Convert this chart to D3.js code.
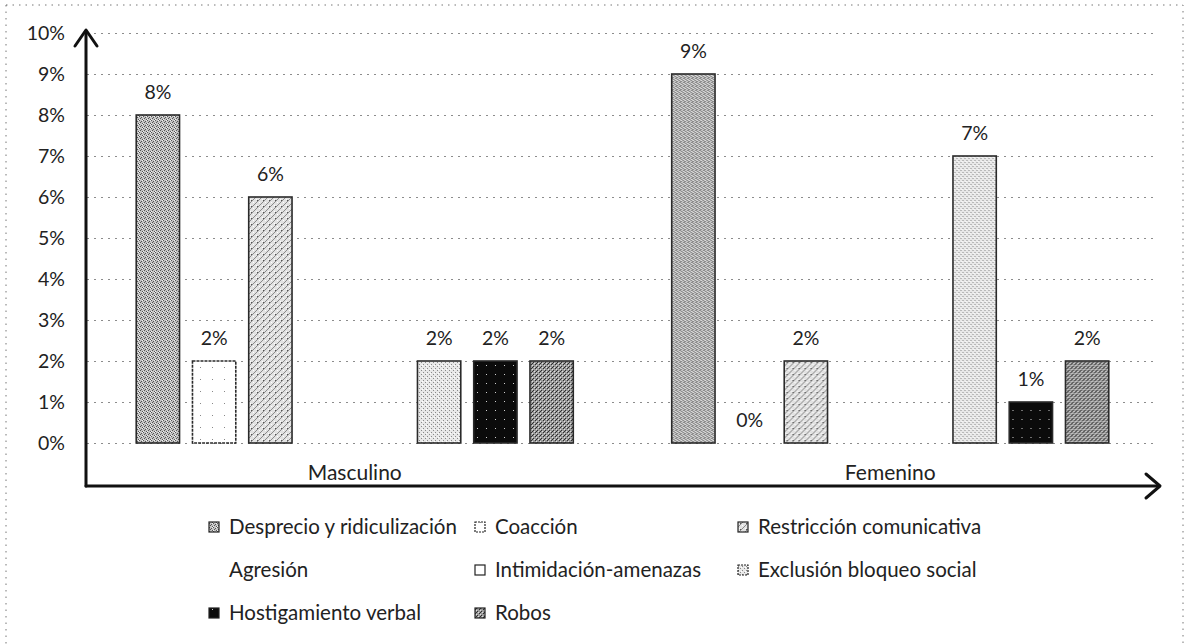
<!DOCTYPE html>
<html>
<head>
<meta charset="utf-8">
<script src="https://cdn.jsdelivr.net/npm/d3@7"></script>
<style>
  html, body { margin: 0; padding: 0; background: #fff; }
  svg { display: block; font-family: Lato, "Open Sans", sans-serif; }
</style>
</head>
<body>
<svg id="chart" width="1189" height="644"></svg>
<script>
// ---- data ----
const categories = ["Masculino", "Femenino"];
const seriesNames = [
  "Desprecio y ridiculización", "Coacción", "Restricción comunicativa",
  "Agresión", "Intimidación-amenazas", "Exclusión bloqueo social",
  "Hostigamiento verbal", "Robos"
];
const masculinoValues = [0.08, 0.02, 0.06, null, null, 0.02, 0.02, 0.02];
const femeninoValues  = [0.09, 0.00, 0.02, null, null, 0.07, 0.01, 0.02];
const yTicks = [0, 0.01, 0.02, 0.03, 0.04, 0.05, 0.06, 0.07, 0.08, 0.09, 0.10];
const legendRows = [
  ["Desprecio y ridiculización", "Coacción", "Restricción comunicativa"],
  ["Agresión", "Intimidación-amenazas", "Exclusión bloqueo social"],
  ["Hostigamiento verbal", "Robos"]
];

const valuesByCat = { "Masculino": masculinoValues, "Femenino": femeninoValues };

// ---- setup ----
const svg = d3.select("#chart");
const plot = { left: 87, right: 1158, top: 33, bottom: 443 };
const axisY = 486;

// patterns
const defs = svg.append("defs");
function pat(id, size, bg, draw) {
  const p = defs.append("pattern").attr("id", id).attr("patternUnits", "userSpaceOnUse")
    .attr("width", size).attr("height", size);
  p.append("rect").attr("width", size).attr("height", size).attr("fill", bg);
  draw(p);
  return p;
}
function dots(p, pts, color) {
  pts.forEach(([x, y]) => p.append("rect").attr("x", x).attr("y", y).attr("width", 1).attr("height", 1).attr("fill", color));
}
pat("p0", 4, "#c4c4c4", p => { dots(p, [[0,0],[2,1],[1,2],[3,3]], "#555"); dots(p, [[3,0],[0,3]], "#f0f0f0"); });
pat("p1", 12, "#ffffff", p => { dots(p, [[5,7]], "#888"); });
pat("p2", 6, "#e2e2e2", p => {
  p.append("path").attr("d", "M0,6 L6,0 M-1,1 L1,-1 M5,7 L7,5").attr("stroke", "#8a8a8a").attr("stroke-width", 1);
  dots(p, [[1,1],[4,4]], "#ffffff"); dots(p, [[2,2]], "#555");
});
pat("p3", 6, "#ffffff", p => {});
pat("p4", 6, "#ffffff", p => {});
pat("p5", 4, "#e8e8e8", p => { dots(p, [[0,0],[2,2]], "#8a8a8a"); dots(p, [[3,1]], "#ffffff"); });
pat("p6", 9, "#0b0b0b", p => { dots(p, [[3,5]], "#d0d0d0"); });
pat("p7", 4, "#9a9a9a", p => { dots(p, [[0,0],[2,2],[1,3]], "#2f2f2f"); dots(p, [[1,1],[3,3]], "#e0e0e0"); });

const fills = seriesNames.map((s, i) => `url(#p${i})`);

// outer dotted frame
svg.append("rect").attr("x", 6).attr("y", 5).attr("width", 1177).attr("height", 660)
  .attr("fill", "none").attr("stroke", "#777").attr("stroke-width", 1).attr("stroke-dasharray", "1.5,5");

// scales
const x0 = d3.scaleBand().domain(categories).range([plot.left, plot.right]).paddingInner(0).paddingOuter(0);
const gap = 85.5;
const x1 = d3.scaleBand().domain(seriesNames).range([gap / 2, x0.bandwidth() - gap / 2])
  .paddingInner(0.23).paddingOuter(0.115);
const y = d3.scaleLinear().domain([0, 0.10]).range([plot.bottom, plot.top]);

// gridlines
const grid = svg.append("g").attr("transform", `translate(${plot.left},0)`)
  .call(d3.axisLeft(y).tickValues(yTicks).tickSize(-(plot.right - plot.left)).tickFormat(""));
grid.select(".domain").remove();
grid.selectAll("line").attr("stroke", "#8c8c8c").attr("stroke-width", 1).attr("stroke-dasharray", "2,5");

// y tick labels
const yAx = svg.append("g").attr("transform", `translate(65,0)`)
  .call(d3.axisLeft(y).tickValues(yTicks).tickSize(0).tickPadding(0).tickFormat(d3.format(".0%")));
yAx.select(".domain").remove();
yAx.selectAll("text").attr("font-size", 19.5).attr("fill", "#222").attr("font-family", "Lato, sans-serif").attr("text-anchor", "end");

// bars
const fmt = d3.format(".0%");
const groups = svg.append("g").selectAll("g").data(categories).join("g")
  .attr("transform", d => `translate(${x0(d)},0)`);
const barData = c => seriesNames.map((s, i) => ({ s, i, v: valuesByCat[c][i] })).filter(d => d.v !== null);
groups.selectAll("rect").data(c => barData(c)).join("rect")
  .filter(d => d.v > 0)
  .attr("x", d => x1(d.s)).attr("width", x1.bandwidth())
  .attr("y", d => y(d.v)).attr("height", d => y(0) - y(d.v))
  .attr("fill", d => fills[d.i])
  .attr("stroke", "#2a2a2a").attr("stroke-width", 1.6)
  .attr("stroke-dasharray", d => d.i === 1 ? "3,1" : null);
groups.selectAll("text.val").data(c => barData(c)).join("text").attr("class", "val")
  .attr("x", d => x1(d.s) + x1.bandwidth() / 2)
  .attr("y", d => y(d.v) - 16)
  .attr("text-anchor", "middle").attr("font-size", 19.5).attr("fill", "#222")
  .text(d => fmt(d.v));

// category labels
svg.append("g").selectAll("text").data(categories).join("text")
  .attr("x", d => x0(d) + x0.bandwidth() / 2).attr("y", 480)
  .attr("text-anchor", "middle").attr("font-size", 21).attr("fill", "#222")
  .text(d => d);

// axes with arrows
const ax = svg.append("g").attr("stroke", "#111").attr("stroke-width", 3).attr("fill", "none")
  .attr("stroke-linecap", "round").attr("stroke-linejoin", "round");
ax.append("line").attr("x1", 86).attr("y1", axisY).attr("x2", 86).attr("y2", 31);
ax.append("path").attr("d", "M75,46 L86,30 L97,46");
ax.append("line").attr("x1", 86).attr("y1", axisY).attr("x2", 1159).attr("y2", axisY);
ax.append("path").attr("d", "M1146,474 L1160,486 L1146,498");

// legend
const colX = [209, 475, 738];
const rowY = [527, 570, 613];
const leg = svg.append("g");
legendRows.forEach((row, r) => {
  row.forEach((name, c) => {
    const i = seriesNames.indexOf(name);
    const g = leg.append("g").attr("transform", `translate(${colX[c]},${rowY[r]})`);
    if (name !== "Agresión") {
      g.append("rect").attr("x", 0).attr("y", -5).attr("width", 10).attr("height", 10)
        .attr("fill", fills[i]).attr("stroke", "#222").attr("stroke-width", 1.2)
        .attr("stroke-dasharray", i === 1 || i === 5 ? "2,1" : null);
    }
    g.append("text").attr("x", 20).attr("y", 0).attr("dy", "0.35em")
      .attr("font-size", 20.5).attr("fill", "#222").text(name);
  });
});
</script>
</body>
</html>
